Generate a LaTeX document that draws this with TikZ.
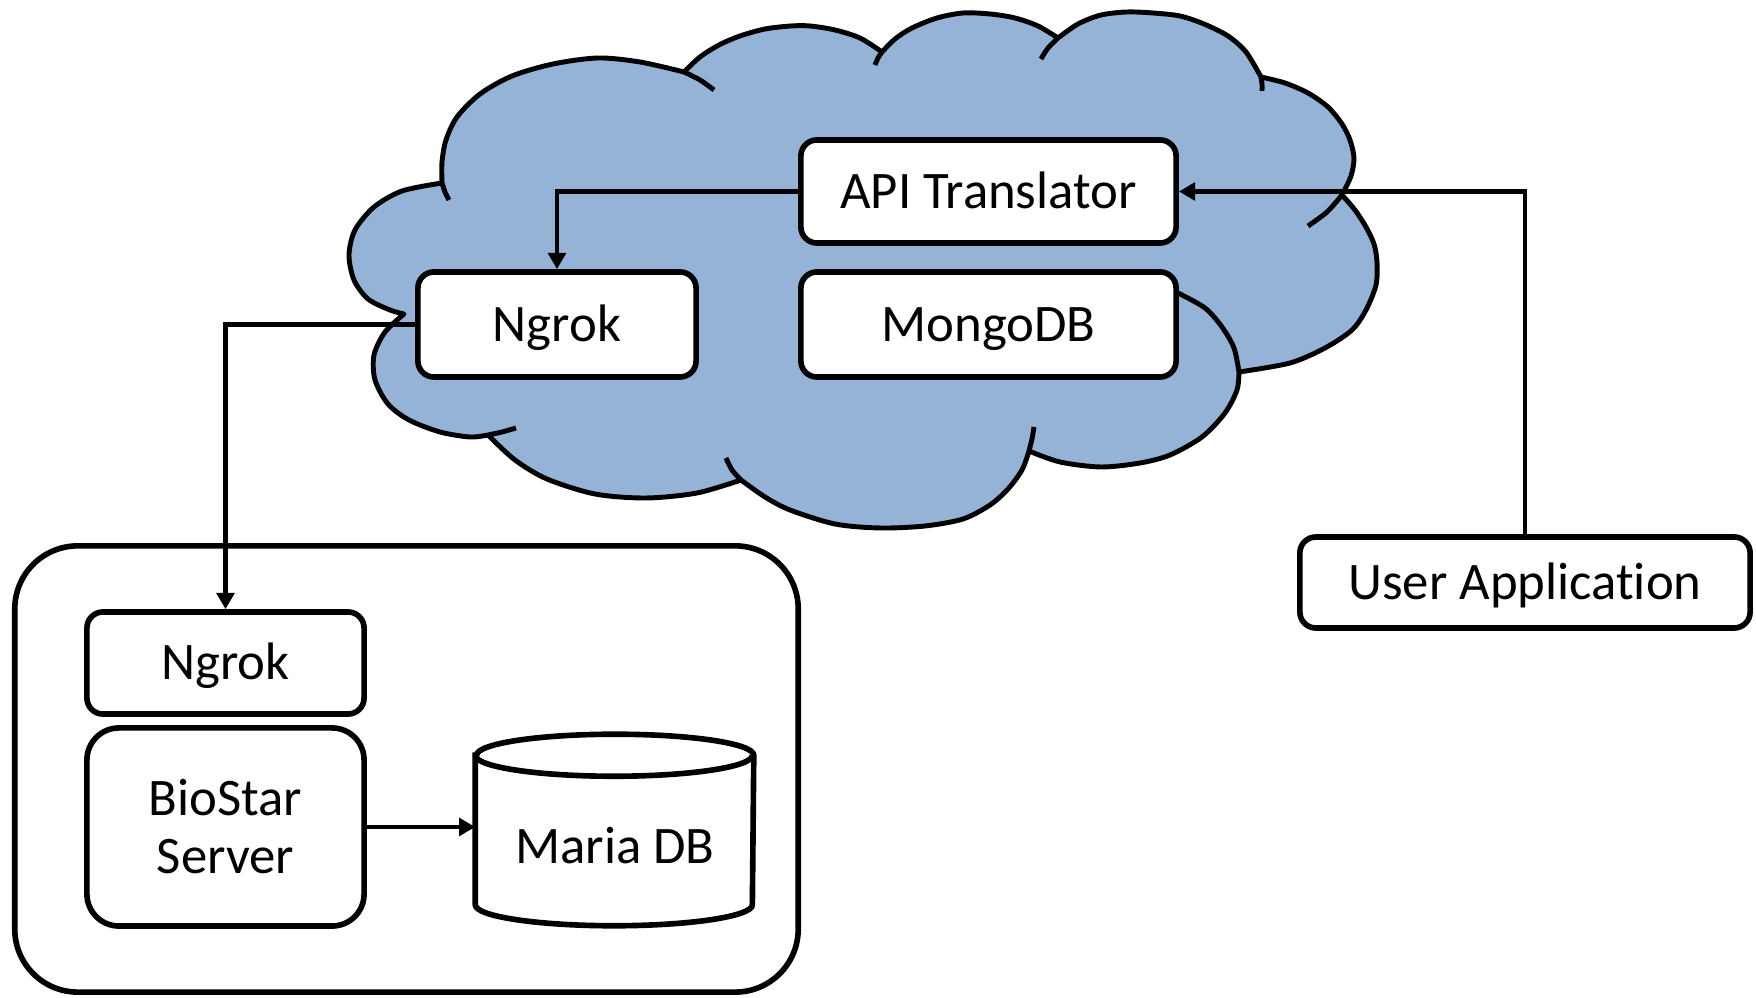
\documentclass[tikz,border=0pt]{standalone}
\usepackage{fontspec}
\setmainfont[Ligatures=NoCommon]{Carlito}
\usetikzlibrary{arrows.meta,calc}
\definecolor{cloudblue}{HTML}{95B3D7}
\begin{document}
\begin{tikzpicture}[x=0.01cm,y=-0.01cm,
  boxbase/.style={draw, line width=1.6pt, fill=white, rounded corners=0.16cm,
    font=\fontsize{15}{16.5}\selectfont, inner sep=0pt},
  box/.style={boxbase, text height=9.6pt, text depth=0pt},
  conn/.style={line width=1.3pt, -{Triangle[length=4.6pt,width=5pt]}},
  cloudline/.style={line width=1.4pt, line join=round},
  inner/.style={line width=1.4pt, line cap=butt}]
\useasboundingbox (0,0) rectangle (1756,998);

% cloud
\path[fill=cloudblue, draw=black, cloudline]
  plot[smooth] coordinates {(442,183) (402,191) (374,207) (355,230) (349,255) (354,280) (368,299) (390,310) (404,314)}
  -- plot[smooth] coordinates {(404,314) (385,332) (374,355) (375,380) (388,404) (409,420) (440,432) (470,437) (488,435)}
  -- plot[smooth] coordinates {(488,435) (515,460) (547,479) (595,494) (646,498) (697,493) (741,480)}
  -- plot[smooth] coordinates {(741,480) (765,497) (790,510) (835,524) (880,528) (925,526) (963,519) (990,505) (1008,489) (1022,470) (1029,451)}
  -- plot[smooth] coordinates {(1029,451) (1060,462) (1101,467) (1140,463) (1170,455) (1202,437) (1225,413) (1237,390) (1239,372)}
  -- plot[smooth] coordinates {(1239,372) (1290,363) (1325,348) (1352,330) (1366,310) (1376,285) (1377,262) (1374,244) (1366,227) (1355,210) (1342,195)}
  -- plot[smooth] coordinates {(1342,195) (1351,176) (1354,158) (1350,140) (1342,124) (1328,107) (1308,93) (1285,83) (1261,77)}
  -- plot[smooth] coordinates {(1261,77) (1246,52) (1228,36) (1204,24) (1180,16) (1153,13) (1127,12) (1101,15) (1078,24) (1058,38)}
  -- plot[smooth] coordinates {(1058,38) (1038,26) (1015,18) (990,14) (963,13) (937,18) (912,28) (895,39) (882,52)}
  -- plot[smooth] coordinates {(882,52) (860,38) (835,30) (810,26) (791,26) (765,29) (740,36) (719,45) (700,57) (684,72)}
  -- plot[smooth] coordinates {(684,72) (640,62) (598,58) (553,64) (512,76) (480,94) (457,117) (446,140) (442,162) (442,183)}
  -- cycle;
% inner arcs of the cloud
\draw[inner] plot[smooth] coordinates {(442,183) (445,192) (449,200)};
\draw[inner] plot[smooth] coordinates {(488,435) (502,432) (516,428)};
\draw[inner] plot[smooth] coordinates {(741,480) (732,470) (726,458)};
\draw[inner] plot[smooth] coordinates {(1029,451) (1032,439) (1034,427)};
\draw[inner] plot[smooth] coordinates {(1178,293) (1205,308) (1222,327) (1234,348) (1239,372)};
\draw[inner] plot[smooth] coordinates {(1342,195) (1327,212) (1308,226)};
\draw[inner] plot[smooth] coordinates {(1261,77) (1262,84) (1262,91)};
\draw[inner] plot[smooth] coordinates {(1058,38) (1048,48) (1041,59)};
\draw[inner] plot[smooth] coordinates {(882,52) (878,58) (875,65)};
\draw[inner] plot[smooth] coordinates {(684,72) (700,80) (714,90)};

% cloud nodes
\node[box, minimum width=3.75cm, minimum height=1.03cm] (api) at (988.5,191.5) {API Translator};
\node[box, minimum width=3.75cm, minimum height=1.05cm] (mongo) at (988.5,324.5) {MongoDB};
\node[box, minimum width=2.78cm, minimum height=1.05cm] (ngrokc) at (557,324.5) {Ngrok};

% user application
\node[box, minimum width=4.50cm, minimum height=0.91cm] (user) at (1525,582.5) {User Application};

% server container
\node[draw, line width=1.6pt, rounded corners=0.63cm, minimum width=7.83cm, minimum height=4.46cm, inner sep=0pt] (server) at (406.5,769) {};
\node[box, minimum width=2.77cm, minimum height=1.02cm] (ngroks) at (225.5,663) {Ngrok};
\node[boxbase, rounded corners=0.32cm, minimum width=2.77cm, minimum height=1.98cm, align=center] (bio) at (225.5,827) {BioStar\\Server};

% Maria DB cylinder
\node[minimum width=2.77cm, minimum height=1.90cm, inner sep=0pt] (maria) at (614.5,830) {};
\draw[line width=1.6pt, fill=white]
  ($(maria.north west)+(0,21)$) -- ($(maria.south west)+(0,-21)$)
  arc[start angle=180, end angle=360, x radius=1.385cm, y radius=0.21cm]
  -- ($(maria.north east)+(0,21)$)
  arc[start angle=0, end angle=180, x radius=1.385cm, y radius=0.21cm] -- cycle;
\draw[line width=1.6pt] ($(maria.north west)+(0,21)$)
  arc[start angle=180, end angle=360, x radius=1.385cm, y radius=0.21cm];
\node[font=\fontsize{15}{16.5}\selectfont, text height=9.6pt, text depth=0pt, inner sep=0pt] (mariatext) at (615,847) {Maria DB};

% connectors
\draw[conn] (api.west) -| (ngrokc.north);
\draw[conn] (user.north) |- (api.east);
\draw[conn] (ngrokc.west) -| (ngroks.north);
\draw[conn] (bio.east) -- (bio.east -| maria.west);
\end{tikzpicture}
\end{document}
